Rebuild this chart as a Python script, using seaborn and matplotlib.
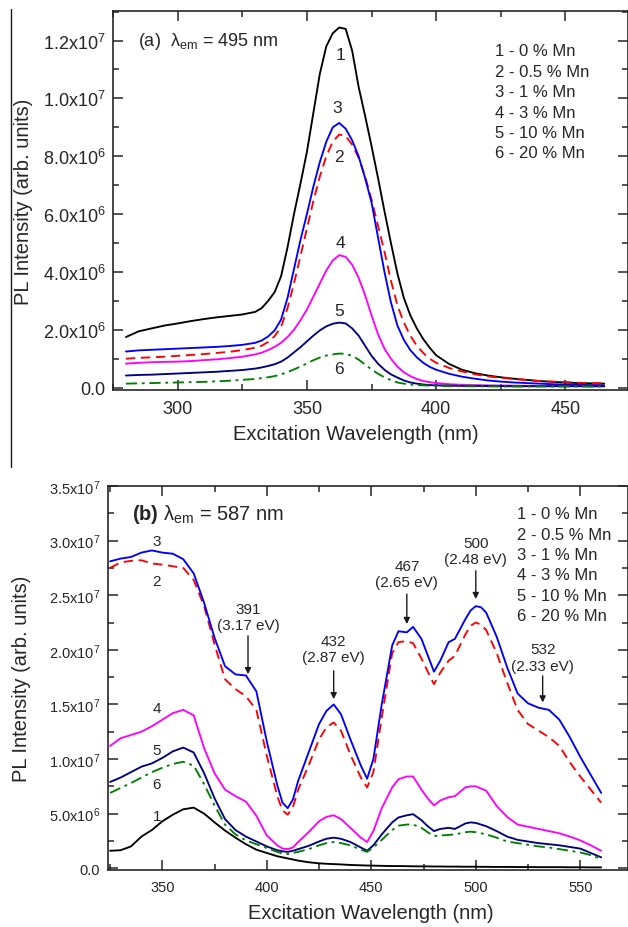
import numpy as np
import matplotlib
matplotlib.use("Agg")
import matplotlib.pyplot as plt
import seaborn as sns
from matplotlib.ticker import MultipleLocator, FuncFormatter
from matplotlib.lines import Line2D

# ---------------- data: panel (a), lambda_em = 495 nm (values in 1e6) ----------------
wl_a = [280, 285, 290, 295, 300, 305, 310, 315, 320, 325,
        330, 332.5, 335, 337.5, 340, 342.5, 345, 347.5, 350, 352.5,
        355, 357.5, 360, 362.5, 365, 367.5, 370, 372.5, 375, 377.5,
        380, 382.5, 385, 387.5, 390, 392.5, 395, 397.5, 400,
        405, 410, 415, 420, 425, 430, 435, 440, 445, 450, 455, 460, 465]
a_mn0 = [1.75, 1.95, 2.05, 2.15, 2.22, 2.30, 2.37, 2.43, 2.48, 2.53,
         2.62, 2.75, 3.0, 3.3, 3.85, 4.85, 6.0, 7.05, 8.15, 9.5,
         10.85, 11.8, 12.25, 12.45, 12.4, 11.65, 10.4, 9.4, 8.35, 7.25,
         6.1, 5.0, 3.95, 3.1, 2.5, 2.05, 1.68, 1.38, 1.12,
         0.82, 0.62, 0.50, 0.42, 0.36, 0.31, 0.27, 0.23, 0.20, 0.18, 0.16, 0.15, 0.14]
a_mn05 = [1.0, 1.03, 1.05, 1.07, 1.10, 1.13, 1.16, 1.20, 1.24, 1.30,
          1.38, 1.45, 1.58, 1.78, 2.1, 2.75, 3.6, 4.55, 5.5, 6.45,
          7.3, 8.0, 8.5, 8.75, 8.7, 8.4, 7.95, 7.3, 6.5, 5.6,
          4.7, 3.7, 2.85, 2.25, 1.8, 1.45, 1.2, 1.0, 0.86,
          0.68, 0.56, 0.46, 0.39, 0.34, 0.30, 0.26, 0.23, 0.21, 0.19, 0.17, 0.16, 0.15]
a_mn1 = [1.25, 1.29, 1.31, 1.33, 1.35, 1.37, 1.39, 1.41, 1.44, 1.48,
         1.55, 1.63, 1.77, 1.98, 2.35, 3.1, 4.1, 5.1, 6.0, 6.95,
         7.8, 8.5, 9.0, 9.15, 8.95, 8.55, 8.0, 7.25, 6.4, 5.2,
         4.0, 2.95, 2.15, 1.65, 1.3, 1.05, 0.86, 0.72, 0.62,
         0.48, 0.38, 0.31, 0.25, 0.21, 0.18, 0.16, 0.14, 0.12, 0.11, 0.10, 0.09, 0.08]
a_mn3 = [0.83, 0.86, 0.88, 0.89, 0.90, 0.92, 0.95, 0.98, 1.02, 1.07,
         1.15, 1.21, 1.3, 1.41, 1.55, 1.75, 2.0, 2.33, 2.7, 3.15,
         3.6, 4.05, 4.4, 4.58, 4.52, 4.25, 3.8, 3.2, 2.5, 1.85,
         1.35, 1.0, 0.73, 0.53, 0.4, 0.3, 0.23, 0.19, 0.16,
         0.12, 0.10, 0.09, 0.08, 0.075, 0.07, 0.065, 0.06, 0.06, 0.055, 0.055, 0.05, 0.05]
a_mn10 = [0.42, 0.44, 0.45, 0.47, 0.49, 0.51, 0.53, 0.55, 0.58, 0.61,
          0.66, 0.7, 0.75, 0.81, 0.9, 1.04, 1.22, 1.4, 1.6, 1.8,
          1.98, 2.12, 2.21, 2.25, 2.22, 2.05, 1.8, 1.45, 1.1, 0.83,
          0.62, 0.46, 0.35, 0.25, 0.18, 0.14, 0.11, 0.09, 0.08,
          0.07, 0.06, 0.06, 0.055, 0.055, 0.05, 0.05, 0.05, 0.05, 0.05, 0.05, 0.05, 0.05]
a_mn20 = [0.14, 0.15, 0.16, 0.17, 0.18, 0.19, 0.20, 0.22, 0.24, 0.27,
          0.3, 0.33, 0.36, 0.4, 0.46, 0.54, 0.63, 0.73, 0.84, 0.95,
          1.04, 1.11, 1.15, 1.18, 1.17, 1.1, 0.97, 0.8, 0.63, 0.48,
          0.36, 0.26, 0.18, 0.14, 0.11, 0.09, 0.08, 0.07, 0.06,
          0.05, 0.05, 0.045, 0.045, 0.04, 0.04, 0.04, 0.04, 0.04, 0.04, 0.04, 0.04, 0.04]

# ---------------- data: panel (b), lambda_em = 587 nm (values in 1e7) ----------------
wl_b = [325, 330, 335, 340, 345, 350, 355, 360, 365, 370, 375, 380, 385, 390, 395, 400,
        405, 407.5, 410, 412.5, 415,
        420, 425, 428.5, 432, 435.5,
        440, 445, 448, 451, 455,
        460, 463, 467, 470, 474,
        477, 480, 483, 487, 490,
        495, 497.5, 500, 502.5, 505,
        510, 515, 520, 525, 530, 535, 540, 545, 550, 555, 560]
b_mn0 = [0.16, 0.165, 0.20, 0.29, 0.35, 0.43, 0.49, 0.54, 0.555, 0.50, 0.42, 0.345, 0.28, 0.22, 0.17, 0.14,
         0.11, 0.10, 0.09, 0.08, 0.07,
         0.055, 0.045, 0.041, 0.038, 0.035,
         0.03, 0.027, 0.025, 0.024, 0.022,
         0.02, 0.02, 0.019, 0.018, 0.017,
         0.017, 0.016, 0.016, 0.015, 0.015,
         0.014, 0.014, 0.014, 0.013, 0.013,
         0.012, 0.012, 0.011, 0.011, 0.01, 0.01, 0.01, 0.009, 0.009, 0.008, 0.008]
b_mn05 = [2.75, 2.80, 2.815, 2.82, 2.79, 2.78, 2.765, 2.75, 2.64, 2.40, 2.05, 1.73, 1.64, 1.575, 1.45, 1.03,
          0.66, 0.53, 0.49, 0.56, 0.72,
          0.94, 1.18, 1.29, 1.335, 1.26,
          1.04, 0.83, 0.74, 0.88, 1.38,
          1.97, 2.07, 2.08, 2.06, 1.92,
          1.80, 1.685, 1.79, 1.90, 1.945,
          2.14, 2.22, 2.25, 2.23, 2.18,
          1.97, 1.70, 1.45, 1.32, 1.26, 1.20, 1.12, 0.97, 0.84, 0.72, 0.60]
b_mn1 = [2.81, 2.835, 2.85, 2.89, 2.91, 2.89, 2.88, 2.83, 2.70, 2.43, 2.11, 1.85, 1.775, 1.765, 1.62, 1.16,
         0.76, 0.60, 0.55, 0.63, 0.80,
         1.06, 1.32, 1.44, 1.50, 1.41,
         1.18, 0.94, 0.82, 1.00, 1.50,
         2.04, 2.17, 2.16, 2.21, 2.10,
         1.95, 1.80, 1.90, 2.07, 2.10,
         2.28, 2.36, 2.40, 2.39, 2.34,
         2.12, 1.84, 1.60, 1.51, 1.47, 1.45, 1.36, 1.20, 1.02, 0.855, 0.69]
b_mn3 = [1.12, 1.19, 1.22, 1.25, 1.30, 1.36, 1.42, 1.45, 1.40, 1.10, 0.87, 0.72, 0.66, 0.61, 0.48, 0.30,
         0.21, 0.18, 0.175, 0.19, 0.24,
         0.33, 0.43, 0.47, 0.485, 0.45,
         0.37, 0.28, 0.24, 0.34, 0.55,
         0.74, 0.815, 0.84, 0.84, 0.72,
         0.64, 0.575, 0.62, 0.65, 0.66,
         0.74, 0.75, 0.75, 0.73, 0.71,
         0.57, 0.47, 0.40, 0.38, 0.36, 0.34, 0.32, 0.29, 0.255, 0.21, 0.16]
b_mn10 = [0.79, 0.83, 0.88, 0.93, 0.96, 1.01, 1.07, 1.105, 1.06, 0.87, 0.64, 0.45, 0.35, 0.29, 0.245, 0.20,
          0.165, 0.155, 0.15, 0.16, 0.175,
          0.205, 0.245, 0.27, 0.28, 0.27,
          0.24, 0.19, 0.16, 0.21, 0.31,
          0.42, 0.465, 0.485, 0.495, 0.44,
          0.385, 0.34, 0.36, 0.37, 0.36,
          0.41, 0.42, 0.415, 0.40, 0.385,
          0.34, 0.29, 0.26, 0.245, 0.23, 0.22, 0.21, 0.195, 0.18, 0.14, 0.10]
b_mn20 = [0.69, 0.735, 0.78, 0.83, 0.88, 0.92, 0.955, 0.975, 0.94, 0.77, 0.575, 0.40, 0.31, 0.255, 0.22, 0.185,
          0.15, 0.135, 0.13, 0.14, 0.15,
          0.175, 0.21, 0.23, 0.24, 0.23,
          0.21, 0.17, 0.15, 0.19, 0.26,
          0.35, 0.39, 0.40, 0.40, 0.37,
          0.33, 0.295, 0.30, 0.305, 0.31,
          0.33, 0.335, 0.33, 0.32, 0.31,
          0.28, 0.245, 0.23, 0.215, 0.20, 0.19, 0.175, 0.16, 0.145, 0.12, 0.085]

legend_lines = ["1 - 0 % Mn", "2 - 0.5 % Mn", "3 - 1 % Mn", "4 - 3 % Mn", "5 - 10 % Mn", "6 - 20 % Mn"]
curve_ids = ["1", "2", "3", "4", "5", "6"]

# label positions of curve numbers
a_num_x = [363, 362.2, 361.8, 363, 362.5, 362.2]
a_num_y = [11.5e6, 8.0e6, 9.68e6, 5.03e6, 2.67e6, 0.66e6]
b_num_x = [347.3] * 6
b_num_y = [0.48e7, 2.63e7, 3.0e7, 1.47e7, 1.08e7, 0.77e7]

# peak annotations panel (b)
peak_wl = [391, 432, 467, 500, 532]
peak_ev = ["3.17", "2.87", "2.65", "2.48", "2.33"]
peak_text_y = [2.304e7, 2.007e7, 2.694e7, 2.907e7, 1.930e7]
peak_arrow_from = [2.128e7, 1.808e7, 2.51e7, 2.724e7, 1.762e7]
peak_arrow_to = [1.777e7, 1.548e7, 2.236e7, 2.465e7, 1.518e7]

colors = ["#000000", "#ff0000", "#0000ff", "#ff00ff", "#000080", "#008000"]
styles = ["-", (0, (5, 3)), "-", "-", "-", (0, (6, 2.5, 1.5, 2.5))]

# ---------------- style ----------------
sns.set_theme(style="ticks")
plt.rcParams["font.family"] = ["Liberation Sans", "DejaVu Sans"]
plt.rcParams["mathtext.fontset"] = "custom"
plt.rcParams["mathtext.rm"] = "Liberation Sans"
plt.rcParams["mathtext.it"] = "Liberation Sans:italic"
plt.rcParams["mathtext.bf"] = "Liberation Sans:bold"
plt.rcParams["axes.linewidth"] = 1.2


def sci_fmt(v, pos):
    if abs(v) < 1:
        return "0.0"
    e = int(np.floor(np.log10(abs(v)) + 1e-9))
    m = v / 10 ** e
    return r"$\mathregular{%.1fx10^{%d}}$" % (m, e)


W, H = 628, 928
fig = plt.figure(figsize=(W / 100, H / 100), dpi=100)
axA = fig.add_axes([113 / W, 1 - 391 / H, (627.5 - 113) / W, (391 - 12) / H])
axB = fig.add_axes([108 / W, 1 - 871 / H, (627.5 - 108) / W, (871 - 487) / H])

series_a = [a_mn0, a_mn05, a_mn1, a_mn3, a_mn10, a_mn20]
series_b = [b_mn0, b_mn05, b_mn1, b_mn3, b_mn10, b_mn20]

for vals, c, ls in zip(series_a, colors, styles):
    sns.lineplot(x=wl_a, y=np.array(vals) * 1e6, ax=axA, color=c, linestyle=ls,
                 lw=1.35, estimator=None, sort=False, legend=False)
for vals, c, ls in zip(series_b, colors, styles):
    sns.lineplot(x=wl_b, y=np.array(vals) * 1e7, ax=axB, color=c, linestyle=ls,
                 lw=1.35, estimator=None, sort=False, legend=False)

# ---------------- panel (a) axes ----------------
axA.set_xlim(275, 474)
axA.set_ylim(-8e4, 1.302e7)
axA.xaxis.set_major_locator(MultipleLocator(50))
axA.xaxis.set_minor_locator(MultipleLocator(25))
axA.yaxis.set_major_locator(MultipleLocator(2e6))
axA.yaxis.set_minor_locator(MultipleLocator(1e6))
axA.yaxis.set_major_formatter(FuncFormatter(sci_fmt))
axA.tick_params(which="both", direction="in", top=True, right=True, width=1.1)
axA.tick_params(which="major", length=7, labelsize=13)
axA.tick_params(which="minor", length=4)
axA.tick_params(axis="y", pad=5.5)
axA.tick_params(axis="x", pad=7.5)
axA.set_xlabel("Excitation Wavelength (nm)", fontsize=14.5)
axA.set_ylabel("PL Intensity (arb. units)", fontsize=14.5)
axA.xaxis.set_label_coords(0.472, -0.09)
axA.yaxis.set_label_coords(-0.155, 0.5)

for t, x, y in zip(curve_ids, a_num_x, a_num_y):
    axA.text(x, y, t, fontsize=12.5, ha="center", va="center")

fig.text(138 / W, 1 - 42 / H, r"(a)  $\mathregular{\lambda_{em}}$ = 495 nm",
         fontsize=13, ha="left", va="center")
for i, s in enumerate(legend_lines):
    fig.text(495 / W, 1 - (52 + 20.4 * i) / H, s, fontsize=12, ha="left", va="center")

# ---------------- panel (b) axes ----------------
axB.set_xlim(324, 572.6)
axB.set_ylim(-1.6e5, 3.5e7)
axB.xaxis.set_major_locator(MultipleLocator(50))
axB.xaxis.set_minor_locator(MultipleLocator(25))
axB.yaxis.set_major_locator(MultipleLocator(5e6))
axB.yaxis.set_minor_locator(MultipleLocator(2.5e6))
axB.yaxis.set_major_formatter(FuncFormatter(sci_fmt))
axB.tick_params(which="both", direction="in", top=True, right=True, width=1.1)
axB.tick_params(which="major", length=7, labelsize=10.5)
axB.tick_params(which="minor", length=4)
axB.tick_params(axis="y", pad=5.5)
axB.tick_params(axis="x", pad=7.5)
axB.set_xlabel("Excitation Wavelength (nm)", fontsize=14.5)
axB.set_ylabel("PL Intensity (arb. units)", fontsize=14.5)
axB.xaxis.set_label_coords(0.505, -0.085)
axB.yaxis.set_label_coords(-0.148, 0.5)

for t, x, y in zip(curve_ids, b_num_x, b_num_y):
    axB.text(x, y, t, fontsize=11, ha="center", va="center")

for wl, ev, ty, a0, a1 in zip(peak_wl, peak_ev, peak_text_y, peak_arrow_from, peak_arrow_to):
    axB.text(wl, ty, "%d\n(%s eV)" % (wl, ev), fontsize=11, ha="center", va="center",
             linespacing=1.2)
    axB.annotate("", xy=(wl, a1), xytext=(wl, a0),
                 arrowprops=dict(arrowstyle="-|>", color="k", lw=1.0, mutation_scale=9,
                                 shrinkA=0, shrinkB=0))

fig.text(132 / W, 1 - 515 / H, r"$\mathbf{(b)}$ $\mathregular{\lambda_{em}}$ = 587 nm",
         fontsize=14.5, ha="left", va="center")
for i, s in enumerate(legend_lines):
    fig.text(516.7 / W, 1 - (515 + 20.3 * i) / H, s, fontsize=12, ha="left", va="center")

# thin vertical rule at the left edge of the upper panel
fig.add_artist(Line2D([10.5 / W, 10.5 / W], [1 - 10 / H, 1 - 468 / H], color="k", lw=1.0))

fig.savefig("out.png", dpi=100)
